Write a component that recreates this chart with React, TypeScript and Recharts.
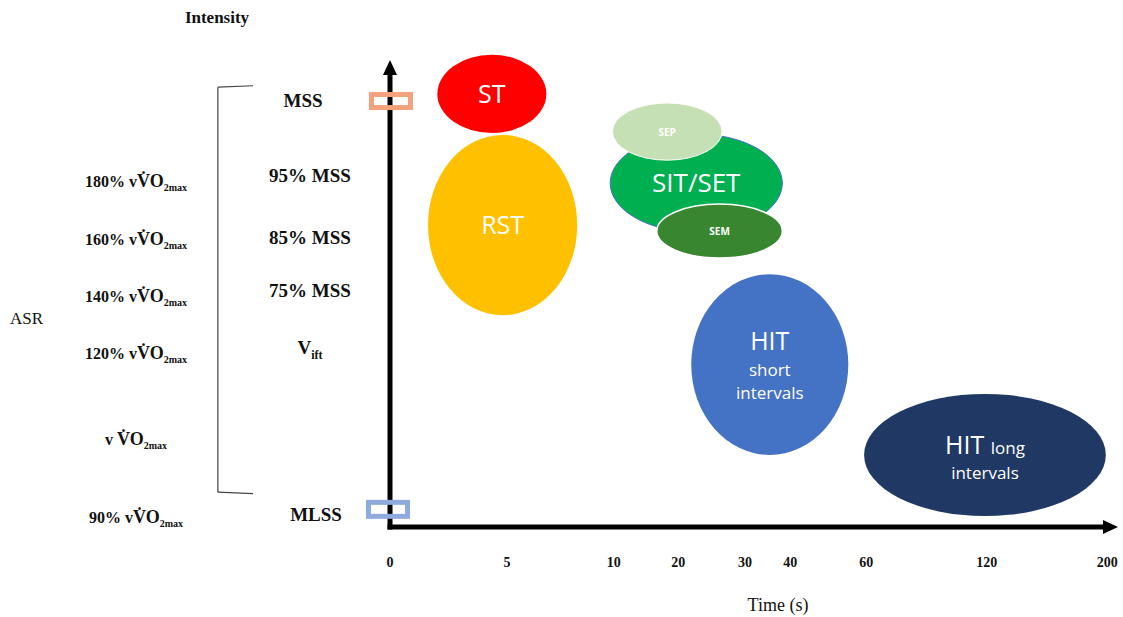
import { ComposedChart, XAxis, YAxis, Scatter, ReferenceArea, ReferenceLine } from 'recharts';

// time axis is not linear in the original figure: each tick sits at its own slot on a 0-100 track
const timeTicks = [0, 5, 10, 20, 30, 40, 60, 120, 200];
const timeSlots = [0, 16.3, 31.2, 40.2, 49.5, 55.8, 66.4, 83.2, 100];

// intensity references (right column) and their ASR equivalents (left column)
const mssLabels = ['MSS', '95% MSS', '85% MSS', '75% MSS', 'Vift', 'MLSS'];
const mssLevels = [89.3, 73.6, 60.6, 49.5, 37.5, 2.5];
const asrPrefix = ['180%  v', '160%  v', '140%   v', '120% v', 'v ', '90% v'];
const asrLevels = [72.3, 60.2, 48.2, 36.3, 18.2, 1.9];

// training zones, bounding box on the (slot, intensity) plane
const zoneNames = ['ST', 'RST', 'SIT/SET', 'SEP', 'SEM', 'HIT short', 'HIT long'];
const zoneX1 = [6.6, 5.3, 30.7, 31.0, 37.2, 42.0, 66.1];
const zoneX2 = [21.8, 26.1, 54.7, 46.3, 54.7, 63.9, 99.8];
const zoneY1 = [82.6, 44.4, 61.8, 76.9, 56.4, 15.1, 2.3];
const zoneY2 = [99.0, 82.2, 82.4, 88.9, 67.7, 53.0, 27.9];

// highlighted levels on the intensity axis
const markers = [
  { x: 0, y: 89.3, kind: 'MSS' },
  { x: 0, y: 3.7, kind: 'MLSS' },
];

const serif = '"Liberation Serif", "Times New Roman", serif';
const sans = '"Open Sans", "Noto Sans", sans-serif';

const zoneStyle: Record<string, { fill: string; stroke?: string; strokeWidth?: number }> = {
  ST: { fill: '#FF0000' },
  RST: { fill: '#FFC000' },
  'SIT/SET': { fill: '#00B050', stroke: '#4472C4', strokeWidth: 1 },
  SEP: { fill: '#C5E0B4', stroke: '#FFFFFF', strokeWidth: 1 },
  SEM: { fill: '#38862F', stroke: '#FFFFFF', strokeWidth: 1.5 },
  'HIT short': { fill: '#4472C4' },
  'HIT long': { fill: '#203864' },
};

function ZoneText({ name, cx, cy }: { name: string; cx: number; cy: number }) {
  const t = { fill: '#fff', fontFamily: sans, textAnchor: 'middle' as const };
  if (name === 'SEP' || name === 'SEM') {
    return <text {...t} x={cx} y={cy + 4} fontSize={10} fontWeight={700}>{name}</text>;
  }
  if (name === 'HIT short') {
    return (
      <g>
        <text {...t} x={cx} y={cy - 15} fontSize={25}>HIT</text>
        <text {...t} x={cx} y={cy + 11} fontSize={17}>short</text>
        <text {...t} x={cx} y={cy + 34} fontSize={17}>intervals</text>
      </g>
    );
  }
  if (name === 'HIT long') {
    return (
      <g>
        <text {...t} x={cx} y={cy - 1} fontSize={25}>
          HIT <tspan fontSize={17}>long</tspan>
        </text>
        <text {...t} x={cx} y={cy + 24} fontSize={17}>intervals</text>
      </g>
    );
  }
  return <text {...t} x={cx} y={cy + 9} fontSize={name === 'SIT/SET' ? 26 : 25}>{name}</text>;
}

function zoneShape(name: string) {
  return (p: any) => {
    const s = zoneStyle[name];
    const cx = p.x + p.width / 2;
    const cy = p.y + p.height / 2;
    return (
      <g>
        <ellipse cx={cx} cy={cy} rx={Math.abs(p.width) / 2} ry={Math.abs(p.height) / 2}
          fill={s.fill} stroke={s.stroke ?? 'none'} strokeWidth={s.strokeWidth ?? 0} />
        <ZoneText name={name} cx={cx} cy={cy} />
      </g>
    );
  };
}

function Arrow(p: any) {
  const { x1, y1, x2, y2 } = p;
  const dx = x2 - x1;
  const dy = y2 - y1;
  const len = Math.hypot(dx, dy);
  const ux = dx / len;
  const uy = dy / len;
  const head = 15;
  const half = 7;
  const bx = x2 - ux * head;
  const by = y2 - uy * head;
  return (
    <g>
      <line x1={x1} y1={y1} x2={bx} y2={by} stroke="#000" strokeWidth={5} strokeLinecap="square" />
      <polygon
        points={`${x2},${y2} ${bx - uy * half},${by + ux * half} ${bx + uy * half},${by - ux * half}`}
        fill="#000"
      />
    </g>
  );
}

function Marker(p: any) {
  const mss = p.payload.kind === 'MSS';
  const w = 39;
  const h = mss ? 13 : 14;
  const cx = mss ? p.cx + 1 : p.cx - 2;
  return (
    <rect x={cx - w / 2} y={p.cy - h / 2} width={w} height={h} fill="none"
      stroke={mss ? '#F4A27C' : '#8FAADC'} strokeWidth={5} />
  );
}

function IntensityTick(p: any) {
  const v = p.payload.value;
  const mi = mssLevels.indexOf(v);
  const ai = asrLevels.indexOf(v);
  const base = { fontFamily: serif, fontWeight: 700, fill: '#111', textAnchor: 'middle' as const };
  const label = mi >= 0 ? mssLabels[mi] : '';
  const shift = label === 'MSS' ? -87 : label === 'MLSS' ? -74 : -80;
  return (
    <g>
      {mi >= 0 && (
        <text {...base} x={p.x + shift} y={p.y + 6} fontSize={19}>
          {label === 'Vift' ? (
            <>V<tspan fontSize={12} dy={5}>ift</tspan></>
          ) : label}
        </text>
      )}
      {ai >= 0 && (
        <text {...base} x={p.x - 254} y={p.y + 5} fontSize={16}>
          {asrPrefix[ai]}
          <tspan fontSize={18}>V&#x307;O</tspan>
          <tspan fontSize={10} dy={4}>2max</tspan>
        </text>
      )}
    </g>
  );
}

function TimeTick(p: any) {
  const i = timeSlots.indexOf(p.payload.value);
  return (
    <text x={p.x} y={p.y + 40} textAnchor="middle" fontFamily={serif} fontWeight={700} fontSize={14} fill="#111">
      {timeTicks[i]}
    </text>
  );
}

function YTitles(p: any) {
  const vb = p.viewBox;
  return (
    <g fontFamily={serif} fill="#111">
      <text x={vb.x + 217} y={vb.y - 27} textAnchor="middle" fontWeight={700} fontSize={17}>Intensity</text>
      <text x={vb.x + 10} y={vb.y + 274} fontSize={17}>ASR</text>
    </g>
  );
}

function XTitle(p: any) {
  const vb = p.viewBox;
  return (
    <text x={vb.x + 388} y={vb.y + 84} textAnchor="middle" fontFamily={serif} fontSize={18} fill="#111">
      Time (s)
    </text>
  );
}

const mssTicks = Array.from(new Set([...mssLevels, ...asrLevels]));

export default function App() {
  return (
    <div style={{ position: 'absolute', left: 0, top: 0, background: '#fff' }}>
      <ComposedChart width={1123} height={617} data={markers} margin={{ top: 50, right: 5, left: 0, bottom: 0 }}>
        <XAxis type="number" dataKey="x" domain={[0, 101.5]} ticks={timeSlots} interval={0}
          axisLine={false} tickLine={false} tickSize={0} tickMargin={0} height={90}
          tick={<TimeTick />} label={XTitle} />
        <YAxis type="number" dataKey="y" domain={[0, 100]} ticks={mssTicks} interval={0}
          axisLine={false} tickLine={false} tickSize={0} tickMargin={0} width={390}
          tick={<IntensityTick />} label={YTitles} />

        {/* bracket grouping the MSS references */}
        <ReferenceLine segment={[{ x: -24, y: 7.3 }, { x: -24, y: 92.2 }]} stroke="#444" strokeWidth={1.2} ifOverflow="visible" />
        <ReferenceLine segment={[{ x: -24, y: 92.2 }, { x: -19.1, y: 92.5 }]} stroke="#444" strokeWidth={1.2} ifOverflow="visible" />
        <ReferenceLine segment={[{ x: -24, y: 7.3 }, { x: -19.1, y: 7.0 }]} stroke="#444" strokeWidth={1.2} ifOverflow="visible" />

        {zoneNames.map((n, i) => (
          <ReferenceArea key={n} x1={zoneX1[i]} x2={zoneX2[i]} y1={zoneY1[i]} y2={zoneY2[i]}
            ifOverflow="visible" shape={zoneShape(n)} />
        ))}

        <ReferenceLine segment={[{ x: 0, y: 0 }, { x: 0, y: 97.9 }]} ifOverflow="visible" shape={Arrow} />
        <ReferenceLine segment={[{ x: 0, y: 0 }, { x: 101.5, y: 0 }]} ifOverflow="visible" shape={Arrow} />

        <Scatter dataKey="y" data={markers} shape={<Marker />} isAnimationActive={false} />
      </ComposedChart>
    </div>
  );
}
